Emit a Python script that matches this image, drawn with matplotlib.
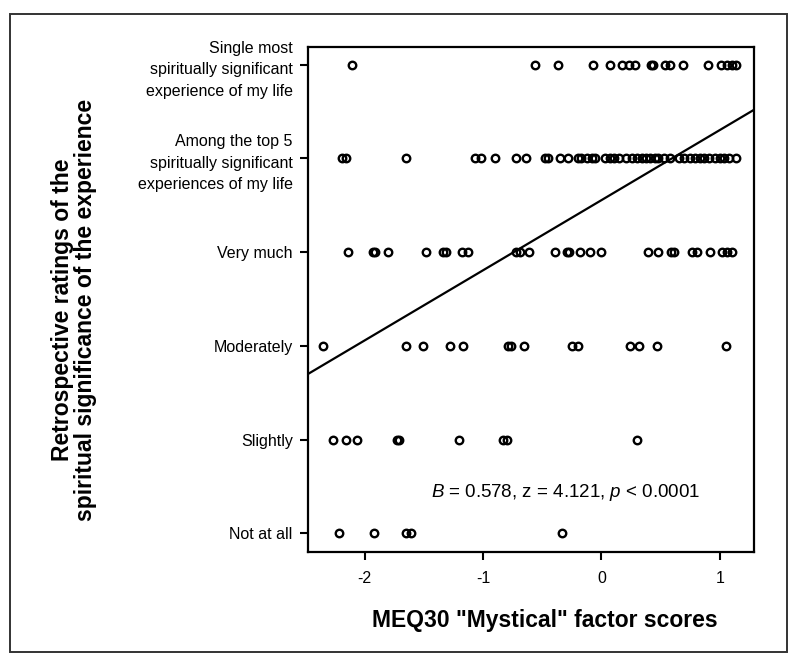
import matplotlib
matplotlib.use("Agg")
import matplotlib.pyplot as plt
from matplotlib.patches import Rectangle

plt.rcParams['font.family'] = ['Liberation Sans', 'DejaVu Sans']
plt.rcParams['mathtext.fontset'] = 'custom'
plt.rcParams['mathtext.rm'] = 'Liberation Sans'
plt.rcParams['mathtext.it'] = 'Liberation Sans:italic'

# ---- data ----
level_labels = [
    "Not at all",
    "Slightly",
    "Moderately",
    "Very much",
    "Among the top 5\nspiritually significant\nexperiences of my life",
    "Single most\nspiritually significant\nexperience of my life",
]

scores_not_at_all = [-2.22, -1.92, -1.65, -1.61, -0.33]
scores_slightly = [-2.27, -2.16, -2.07, -1.73, -1.71, -1.20, -0.83, -0.80, 0.30]
scores_moderately = [-2.35, -1.65, -1.51, -1.28, -1.17, -0.79, -0.76, -0.65,
                     -0.25, -0.20, 0.24, 0.32, 0.47, 1.05]
scores_very_much = [-2.14, -1.93, -1.91, -1.80, -1.48, -1.34, -1.31, -1.18, -1.13,
                    -0.72, -0.69, -0.61, -0.39, -0.29, -0.27, -0.18, -0.10, 0.00,
                    0.39, 0.48, 0.59, 0.61, 0.77, 0.81, 0.92, 1.02, 1.06, 1.10]
scores_top5 = [-2.19, -2.16, -1.65, -1.07, -1.02, -0.90, -0.72, -0.64, -0.48, -0.45,
               -0.35, -0.28, -0.20, -0.17, -0.12, -0.08, -0.05, 0.03, 0.07, 0.11,
               0.15, 0.21, 0.26, 0.30, 0.34, 0.38, 0.41, 0.45, 0.48, 0.53, 0.58,
               0.66, 0.70, 0.75, 0.79, 0.83, 0.87, 0.91, 0.96, 1.00, 1.04, 1.08, 1.14]
scores_single = [-2.11, -0.56, -0.37, -0.07, 0.07, 0.17, 0.23, 0.28, 0.42, 0.44,
                 0.54, 0.58, 0.69, 0.90, 1.01, 1.06, 1.10, 1.14]

rows = [scores_not_at_all, scores_slightly, scores_moderately,
        scores_very_much, scores_top5, scores_single]

line_intercept = 3.555
line_slope = 0.748

x_ticks = [-2, -1, 0, 1]
annotation = r"$B$ = 0.578, z = 4.121, $p$ < 0.0001"

# ---- figure ----
fig = plt.figure(figsize=(8, 6.67), dpi=100)
fig.patches.append(Rectangle((10 / 800, 1 - 652 / 667), 777 / 800, 638 / 667,
                             transform=fig.transFigure, fill=False,
                             edgecolor='#333333', linewidth=1.4))

ax = fig.add_axes([308 / 800, 1 - 552 / 667, 446 / 800, 505 / 667])
xlim = (-2.48, 1.29)
ax.set_xlim(*xlim)
ax.set_ylim(-0.2, 5.19)

for lvl, vals in enumerate(rows):
    ax.plot(vals, [lvl] * len(vals), linestyle='none', marker='o',
            markersize=5.4, markerfacecolor='none', markeredgecolor='black',
            markeredgewidth=1.7)

xs = list(xlim)
ax.plot(xs, [line_intercept + line_slope * x for x in xs], color='black',
        linewidth=1.6, clip_on=True)

ax.set_xticks(x_ticks)
ax.set_xticklabels([str(t) for t in x_ticks], fontsize=11.5)
ax.set_yticks(range(len(level_labels)))
ax.set_yticklabels(level_labels, fontsize=11.5, linespacing=1.55)
ax.tick_params(direction='out', length=6, width=1.5)
ax.tick_params(axis='x', pad=8)
ax.tick_params(axis='y', pad=5)

for s in ax.spines.values():
    s.set_linewidth(1.6)

ax.set_xlabel('MEQ30 "Mystical" factor scores', fontsize=16.5, fontweight='bold')
ax.xaxis.set_label_coords(0.531, -0.113)
fig.text(74 / 800, 1 - 310 / 667,
         "Retrospective ratings of the\nspiritual significance of the experience",
         rotation=90, ha='center', va='center', fontsize=16.5, fontweight='bold',
         linespacing=1.05)

ax.text(0.879, 0.117, annotation, transform=ax.transAxes, ha='right', va='center',
        fontsize=13.5)

fig.savefig("out.png", dpi=100)
